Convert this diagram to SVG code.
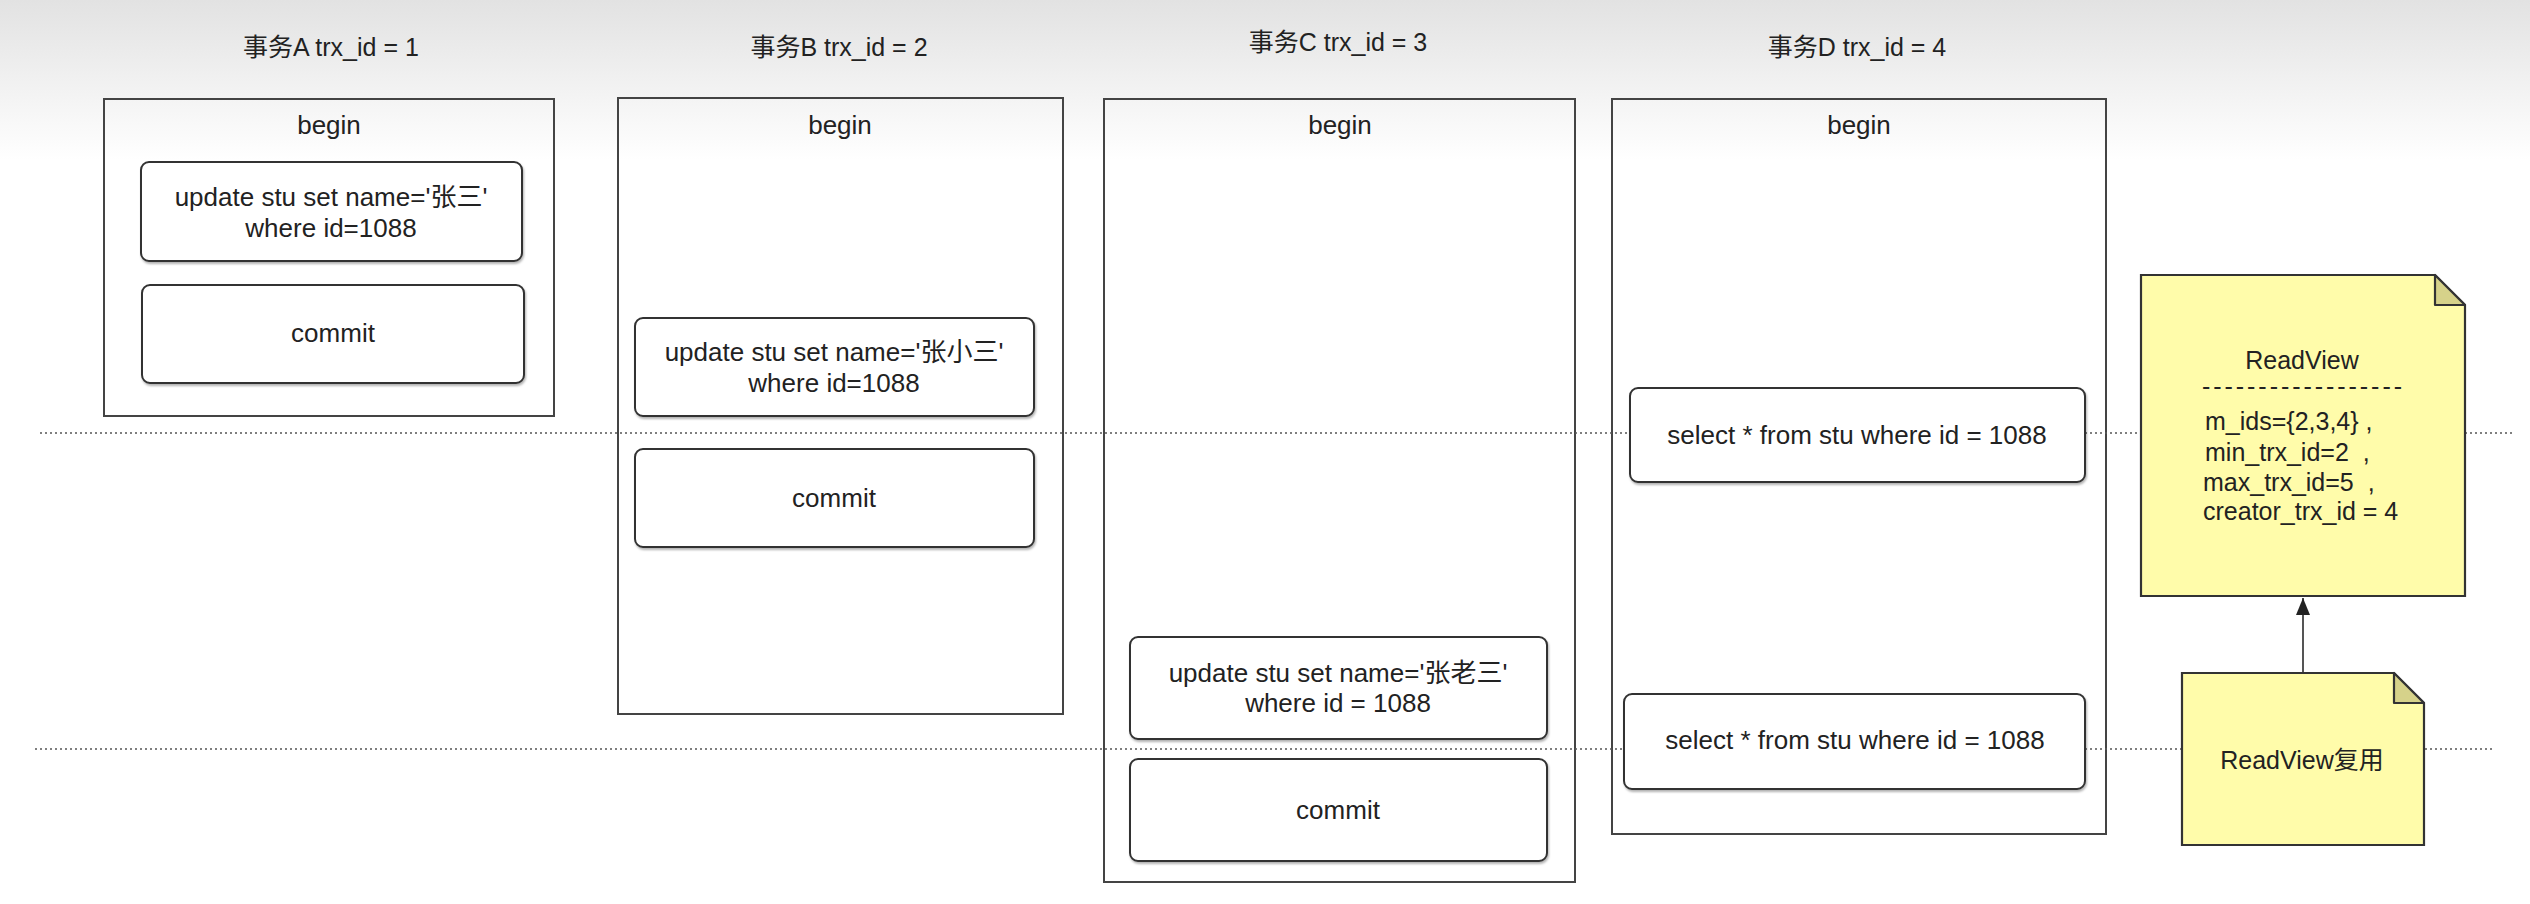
<svg xmlns="http://www.w3.org/2000/svg" width="2530" height="904" viewBox="0 0 2530 904">
<defs>
<linearGradient id="bg" x1="0" y1="0" x2="0" y2="1">
<stop offset="0" stop-color="#e2e2e2"/>
<stop offset="1" stop-color="#ffffff"/>
</linearGradient>
<filter id="sh" x="-5%" y="-5%" width="110%" height="115%">
<feDropShadow dx="1" dy="2" stdDeviation="1" flood-color="#000" flood-opacity="0.3"/>
</filter>
<marker id="arr" viewBox="0 0 17 14" refX="17" refY="7" markerWidth="17" markerHeight="14" markerUnits="userSpaceOnUse" orient="auto">
<path d="M17,7 L0,0 L0,14 Z" fill="#222"/>
</marker>
</defs>
<style>
text{font-family:"Liberation Sans","Noto Sans CJK SC",sans-serif;fill:#222;}
.t{font-size:25px;text-anchor:middle;}
.b{font-size:26px;text-anchor:middle;}
.n{font-size:25px;white-space:pre;}
.outer{fill:none;stroke:#444;stroke-width:2;}
.inner{fill:#fff;stroke:#333;stroke-width:2;filter:url(#sh);}
.dot{stroke:#555;stroke-width:1.6;stroke-dasharray:2 3;fill:none;}
.note{fill:#fffcaa;stroke:#333;stroke-width:2.2;}
.fold{fill:#d6d28a;stroke:#333;stroke-width:2.2;stroke-linejoin:round;}
.conn{stroke:#555;stroke-width:2;fill:none;}
</style>
<rect x="0" y="0" width="2530" height="160" fill="url(#bg)"/>
<rect x="0" y="160" width="2530" height="744" fill="#fff"/>

<g id="titles">
<text class="t" x="331" y="56">事务A trx_id = 1</text>
<text class="t" x="839" y="56">事务B trx_id = 2</text>
<text class="t" x="1338" y="51">事务C trx_id = 3</text>
<text class="t" x="1857" y="56">事务D trx_id = 4</text>
</g>

<g id="txA">
<rect class="outer" x="104" y="99" width="450" height="317"/>
<text class="b" x="329" y="134">begin</text>
</g>
<g id="txB">
<rect class="outer" x="618" y="98" width="445" height="616"/>
<text class="b" x="840" y="134">begin</text>
</g>
<g id="txC">
<rect class="outer" x="1104" y="99" width="471" height="783"/>
<text class="b" x="1340" y="134">begin</text>
</g>
<g id="txD">
<rect class="outer" x="1612" y="99" width="494" height="735"/>
<text class="b" x="1859" y="134">begin</text>
</g>

<g id="timelines">
<line class="dot" x1="40" y1="433" x2="2515" y2="433"/>
<line class="dot" x1="35" y1="749" x2="2495" y2="749"/>
</g>

<g id="A-update">
<rect class="inner" x="141" y="162" width="381" height="99" rx="8"/>
<text class="b" x="331" y="206">update stu set name='张三'</text>
<text class="b" x="331" y="237">where id=1088</text>
</g>
<g id="A-commit">
<rect class="inner" x="142" y="285" width="382" height="98" rx="8"/>
<text class="b" x="333" y="342">commit</text>
</g>
<g id="B-update">
<rect class="inner" x="635" y="318" width="399" height="98" rx="8"/>
<text class="b" x="834" y="361">update stu set name='张小三'</text>
<text class="b" x="834" y="392">where id=1088</text>
</g>
<g id="B-commit">
<rect class="inner" x="635" y="449" width="399" height="98" rx="8"/>
<text class="b" x="834" y="507">commit</text>
</g>
<g id="C-update">
<rect class="inner" x="1130" y="637" width="417" height="102" rx="8"/>
<text class="b" x="1338" y="682">update stu set name='张老三'</text>
<text class="b" x="1338" y="712">where id = 1088</text>
</g>
<g id="C-commit">
<rect class="inner" x="1130" y="759" width="417" height="102" rx="8"/>
<text class="b" x="1338" y="819">commit</text>
</g>
<g id="D-select1">
<rect class="inner" x="1630" y="388" width="455" height="94" rx="8"/>
<text class="b" x="1857" y="444">select * from stu where id = 1088</text>
</g>
<g id="D-select2">
<rect class="inner" x="1624" y="694" width="461" height="95" rx="8"/>
<text class="b" x="1855" y="749">select * from stu where id = 1088</text>
</g>

<g id="readview">
<path class="note" d="M2141,275 L2435,275 L2465,305 L2465,596 L2141,596 Z"/>
<path class="fold" d="M2435,275 L2435,305 L2465,305 Z"/>
<text class="t" x="2302" y="369">ReadView</text>
<text class="n" x="2202" y="395" textLength="200" lengthAdjust="spacing">------------------</text>
<text class="n" x="2205" y="430">m_ids={2,3,4} ,</text>
<text class="n" x="2205" y="461">min_trx_id=2  ,</text>
<text class="n" x="2203" y="491">max_trx_id=5  ,</text>
<text class="n" x="2203" y="520">creator_trx_id = 4</text>
</g>

<g id="readview-reuse">
<path class="note" d="M2182,673 L2394,673 L2424,703 L2424,845 L2182,845 Z"/>
<path class="fold" d="M2394,673 L2394,703 L2424,703 Z"/>
<text class="t" x="2302" y="769">ReadView复用</text>
</g>

<g id="connectors">
<line class="conn" x1="2303" y1="672" x2="2303" y2="598" marker-end="url(#arr)"/>
</g>
</svg>
